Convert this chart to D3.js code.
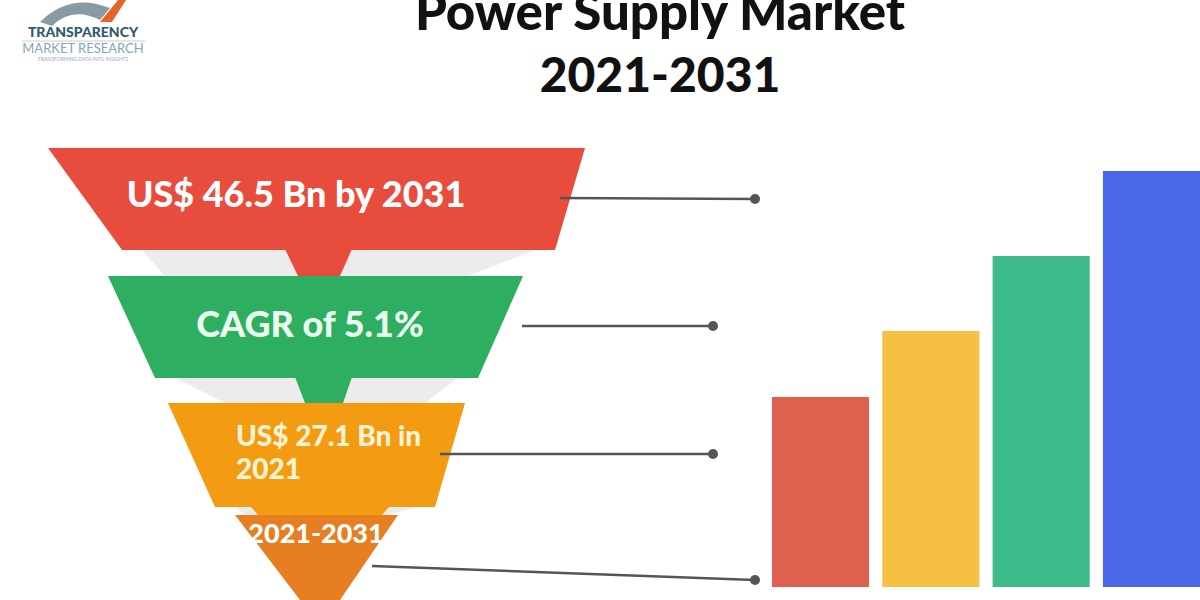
<!DOCTYPE html>
<html><head><meta charset="utf-8">
<script src="https://cdn.jsdelivr.net/npm/d3@7"></script>
<style>body{margin:0;background:#fff}svg{display:block}</style>
</head><body><svg id="c" width="1200" height="600"></svg>
<script>
const titleLines = ["Power Supply Market", "2021-2031"];
const funnelLabels = [["US$ 46.5 Bn by 2031"], ["CAGR of 5.1%"], ["US$ 27.1 Bn in", "2021"], ["2021-2031"]];
const funnelColors = ["#E84C3D", "#2DAE60", "#F39C12", "#E67E22"];
const barCategories = ["b1", "b2", "b3", "b4"];
const barValues = [19.0, 25.6, 33.1, 41.6];
const barColors = ["#E0604F", "#F6C142", "#3DBB8B", "#4A67E8"];

const svg = d3.select("#c");
const F = "Lato, 'Open Sans', sans-serif";

// logo
const lg = svg.append("g");
lg.append("path").attr("d","M40,22 Q70,-8 110,8 L100,20 Q72,6 52,26 Z").attr("fill","#8a9aa3");
lg.append("path").attr("d","M100,22 L118,0 L126,0 L112,22 Z").attr("fill","#E8632A");
lg.append("text").attr("x",83).attr("y",37).attr("text-anchor","middle").attr("font-family",F).attr("font-weight",900).attr("font-size",14).attr("fill","#2e5a6e").text("TRANSPARENCY");
lg.append("line").attr("x1",22).attr("x2",145).attr("y1",41).attr("y2",41).attr("stroke","#ccc");
lg.append("text").attr("x",83).attr("y",53).attr("text-anchor","middle").attr("font-family",F).attr("font-size",13).attr("fill","#7fa8b5").text("MARKET RESEARCH");
lg.append("text").attr("x",83).attr("y",61).attr("text-anchor","middle").attr("font-family",F).attr("font-size",5).attr("fill","#9ab").text("TRANSFORMING DATA INTO INSIGHTS");

// title
svg.selectAll("text.t").data(titleLines).join("text")
  .attr("x",660).attr("y",(d,i)=>30+i*62).attr("text-anchor","middle")
  .attr("font-family",F).attr("font-weight",900).attr("font-size",(d,i)=>i?48:51).attr("fill","#111").text(d=>d);

// funnel geometry
const levels = [
  {top:148,bot:250,tl:48,tr:585,bl:122,br:555, tip:[285,352,298,340,276]},
  {top:276,bot:378,tl:108,tr:523,bl:155,br:478, tip:[295,352,305,343,403]},
  {top:403,bot:507,tl:168,tr:465,bl:215,br:435, tip:[250,390,258,382,515]},
  {top:515,bot:600,tl:235,tr:398,bl:300,br:340, tip:null}
];
const shadows = [[122,555,155,478,250,276],[155,478,215,435,378,403],[215,435,235,398,507,515]];
shadows.forEach(s=>{
  svg.append("path").attr("d",`M${s[0]+20},${s[4]} L${s[1]-20},${s[4]} L${s[3]-10},${s[5]} L${s[2]+10},${s[5]} Z`).attr("fill","#ececec");
});
levels.forEach((L,i)=>{
  if(L.tip){
    svg.append("path").attr("d",`M${L.tip[0]},${L.bot-1} L${L.tip[1]},${L.bot-1} L${L.tip[3]},${L.tip[4]} L${L.tip[2]},${L.tip[4]} Z`).attr("fill",funnelColors[i]);
  }
  svg.append("path").attr("d",`M${L.tl},${L.top} L${L.tr},${L.top} L${L.br},${L.bot} L${L.bl},${L.bot} Z`).attr("fill",funnelColors[i]);
});
const lab = [
  {x:296,y:207,size:36,anchor:"middle",fill:"#fff"},
  {x:310,y:337,size:36,anchor:"middle",fill:"#eafff0"},
  {x:236,y:446,size:28,anchor:"start",fill:"#fff3d6",lh:33},
  {x:316,y:543,size:27,anchor:"middle",fill:"#fff"}
];
funnelLabels.forEach((ls,i)=>{
  const o=lab[i];
  ls.forEach((t,j)=>svg.append("text").attr("x",o.x).attr("y",o.y+j*(o.lh||0)).attr("text-anchor",o.anchor)
    .attr("font-family",F).attr("font-weight",900).attr("font-size",o.size).attr("fill",o.fill).text(t));
});
const conns=[[560,198,755,199],[522,326,713,326],[440,454,713,454],[372,566,755,580]];
conns.forEach(c=>{
  svg.append("line").attr("x1",c[0]).attr("y1",c[1]).attr("x2",c[2]).attr("y2",c[3]).attr("stroke","#555").attr("stroke-width",2.5);
  svg.append("circle").attr("cx",c[2]).attr("cy",c[3]).attr("r",5).attr("fill","#555");
});

const x = d3.scaleBand().domain(barCategories).range([772,1200]).paddingInner(0.12).paddingOuter(0);
const y = d3.scaleLinear().domain([0,41.6]).range([587,171]);
svg.selectAll("rect.bar").data(barValues).join("rect").attr("class","bar")
  .attr("x",(d,i)=>x(barCategories[i])).attr("width",x.bandwidth())
  .attr("y",d=>y(d)).attr("height",d=>y(0)-y(d)).attr("fill",(d,i)=>barColors[i]);
</script></body></html>
